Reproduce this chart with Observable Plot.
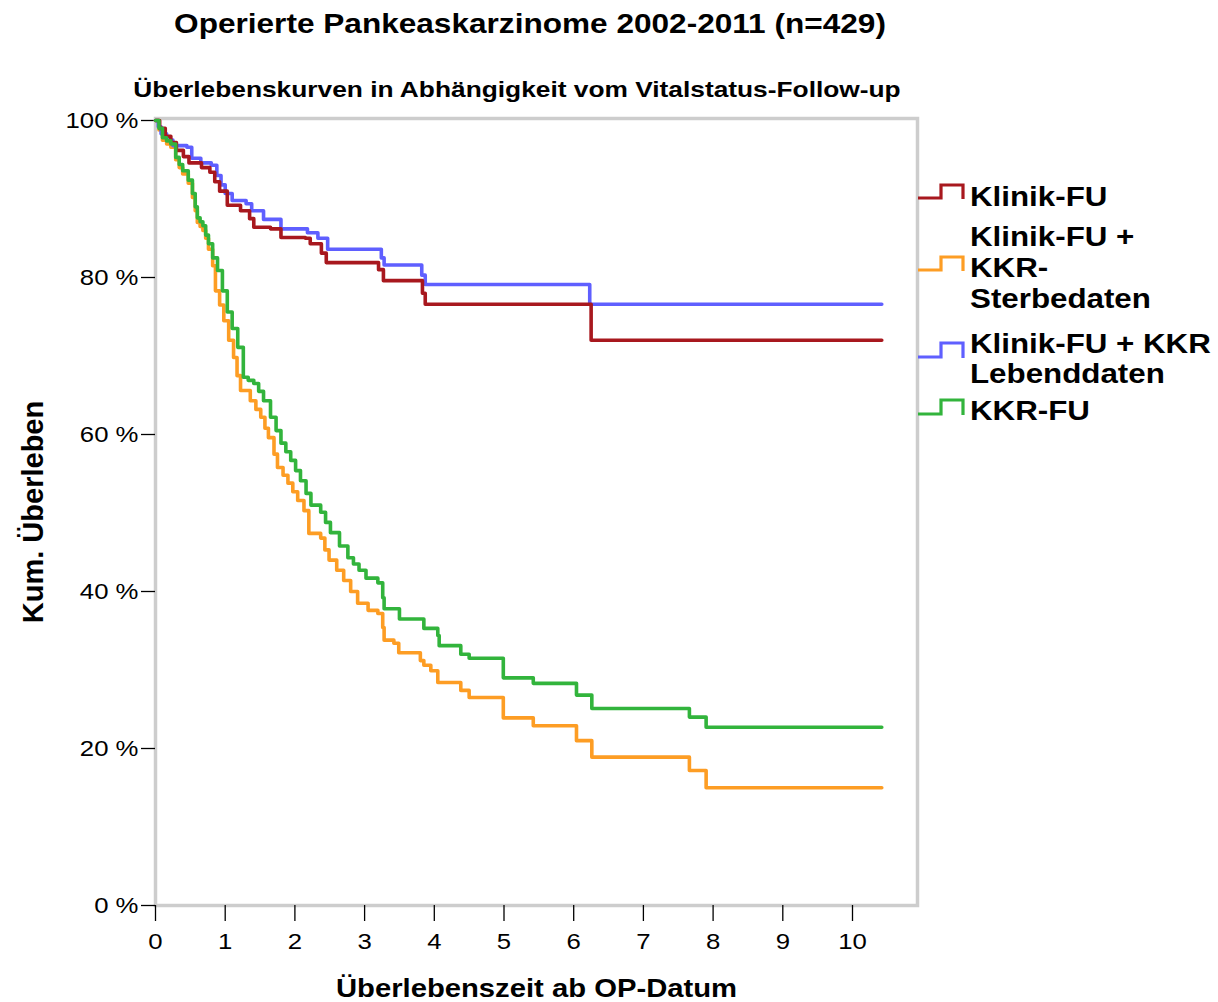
<!DOCTYPE html>
<html>
<head>
<meta charset="utf-8">
<script src="https://cdn.jsdelivr.net/npm/d3@7"></script>
<script src="https://cdn.jsdelivr.net/npm/@observablehq/plot@0.6"></script>
<style>
  html, body { margin: 0; padding: 0; background: #fff; }
  #wrap { position: relative; width: 1218px; height: 1002px; overflow: hidden; font-family: "Liberation Sans", Arial, sans-serif; }
  #chart { position: absolute; left: 0; top: 110px; }
  #overlay { position: absolute; left: 0; top: 0; pointer-events: none; }
</style>
</head>
<body>
<div id="wrap">
  <div id="chart"></div>
  <svg id="overlay" width="1218" height="1002"></svg>
</div>
<script>
// ---- Data ----
const seriesNames = ["Klinik-FU", "Klinik-FU + KKR-Sterbedaten", "Klinik-FU + KKR Lebenddaten", "KKR-FU"];
const seriesColors = ["#a8181e", "#fd9d24", "#5f5fff", "#32b43c"];
const legendLines = [["Klinik-FU"], ["Klinik-FU +", "KKR-", "Sterbedaten"], ["Klinik-FU + KKR", "Lebenddaten"], ["KKR-FU"]];

const klinikT = [0, 0.06, 0.14, 0.22, 0.3, 0.4, 0.48, 0.66, 0.78, 0.85, 0.92, 1.03, 1.22, 1.35, 1.41, 1.65, 1.8, 2.15, 2.22, 2.38, 2.45, 3.2, 3.27, 3.83, 3.87, 6.25, 10.42];
const klinikS = [100, 99, 98, 97.2, 96.2, 95.4, 94.6, 94, 93.4, 92.2, 91, 89.2, 88.5, 87.5, 86.4, 86.2, 85.1, 85, 84.3, 83.1, 81.9, 81, 79.6, 78, 76.6, 72, 72];

const sterbT = [0, 0.05, 0.1, 0.16, 0.22, 0.29, 0.34, 0.39, 0.47, 0.53, 0.57, 0.6, 0.64, 0.68, 0.72, 0.76, 0.82, 0.86, 0.92, 0.98, 1.05, 1.12, 1.17, 1.22, 1.36, 1.44, 1.51, 1.57, 1.62, 1.7, 1.75, 1.83, 1.9, 1.97, 2.04, 2.13, 2.2, 2.37, 2.43, 2.49, 2.6, 2.7, 2.8, 2.9, 3.05, 3.19, 3.26, 3.28, 3.42, 3.49, 3.8, 3.85, 3.95, 4.05, 4.38, 4.5, 4.99, 5.42, 6.04, 6.26, 7.66, 7.9, 10.42];
const sterbS = [100, 98.8, 97.5, 97, 96.6, 95, 94, 93.2, 92, 90.2, 88.5, 87, 86.5, 86, 85, 83.6, 81.5, 78.3, 76.5, 74.5, 72, 69.8, 67.5, 65.6, 64.3, 63.2, 62.2, 60.8, 59.6, 57.5, 55.8, 54.8, 53.8, 52.7, 51.6, 50.3, 47.4, 46.8, 45.3, 44, 42.7, 41.4, 40, 38.5, 37.6, 37.2, 35.4, 33.8, 33.4, 32.2, 31.2, 30.6, 29.9, 28.4, 27.4, 26.5, 23.9, 22.9, 21, 18.9, 17.2, 15, 15];

const lebendT = [0, 0.04, 0.08, 0.16, 0.25, 0.45, 0.52, 0.65, 0.8, 0.88, 0.94, 1.0, 1.1, 1.3, 1.38, 1.55, 1.8, 2.18, 2.33, 2.47, 3.24, 3.28, 3.82, 3.87, 6.23, 10.42];
const lebendS = [100, 99.2, 98.3, 97.5, 96.8, 96.6, 95.2, 94.6, 94.3, 93, 91.8, 90.7, 89.8, 89.4, 88.5, 87.4, 86.2, 85.7, 85, 83.6, 82.5, 81.6, 80.3, 79.1, 76.6, 76.6];

const kkrT = [0, 0.05, 0.1, 0.16, 0.22, 0.29, 0.34, 0.39, 0.47, 0.53, 0.57, 0.6, 0.64, 0.68, 0.72, 0.76, 0.82, 0.89, 0.96, 1.03, 1.1, 1.18, 1.26, 1.33, 1.41, 1.48, 1.55, 1.65, 1.73, 1.8, 1.87, 1.94, 2.01, 2.08, 2.16, 2.23, 2.37, 2.44, 2.51, 2.64, 2.76, 2.84, 2.92, 3.02, 3.19, 3.26, 3.28, 3.5, 3.85, 4.05, 4.07, 4.38, 4.5, 4.99, 5.42, 6.04, 6.26, 7.66, 7.9, 10.42];
const kkrS = [100, 99, 97.8, 97.4, 97, 95.3, 94.4, 93.6, 92.4, 90.7, 89, 87.6, 87.1, 86.6, 85.4, 84.3, 82.5, 80.9, 78.3, 75.6, 73.5, 71.1, 67.3, 66.9, 66.5, 65.5, 64.3, 62.2, 60.5, 58.9, 57.8, 56.7, 55.4, 54.1, 52.5, 51, 50.1, 48.8, 47.5, 45.8, 44.3, 43.5, 42.7, 41.7, 41.1, 39.2, 37.8, 36.5, 35.3, 34.4, 33.1, 32, 31.5, 29, 28.3, 26.8, 25.1, 24, 22.7, 22.7];

const xTicks = [0, 1, 2, 3, 4, 5, 6, 7, 8, 9, 10];
const yTicks = [0, 20, 40, 60, 80, 100];
const titleText = "Operierte Pankeaskarzinome 2002-2011 (n=429)";
const subtitleText = "Überlebenskurven in Abhängigkeit vom Vitalstatus-Follow-up";
const xLabel = "Überlebenszeit ab OP-Datum";
const yLabel = "Kum. Überleben";

// ---- Build table ----
const seriesData = [[klinikT, klinikS], [sterbT, sterbS], [lebendT, lebendS], [kkrT, kkrS]];
const drawOrder = [1, 2, 0, 3];
const rows = drawOrder.flatMap(k => seriesData[k][0].map((t, i) => ({name: seriesNames[k], t, s: seriesData[k][1][i]})));

const FONT = "'Liberation Sans', Arial, sans-serif";
const SX = 1.17;

const plot = Plot.plot({
  width: 1218,
  height: 892,
  marginLeft: 155,
  marginRight: 301,
  marginTop: 8,
  marginBottom: 97,
  style: {fontFamily: FONT, background: "#fff", color: "#000", overflow: "visible"},
  x: {domain: [0, 10], range: [155, 852]},
  y: {domain: [0, 100], range: [795, 10]},
  color: {domain: seriesNames, range: seriesColors},
  marks: [
    Plot.frame({stroke: "#cdcdcd", strokeWidth: 3.5}),
    Plot.axisX({ticks: xTicks, tickSize: 16, tickPadding: 12, fontSize: 22, label: null, strokeWidth: 1.3}),
    Plot.axisY({ticks: yTicks, tickFormat: d => `${d} %`, tickSize: 14, tickPadding: 3, fontSize: 22, label: null, strokeWidth: 1.3}),
    Plot.line(rows, {x: "t", y: "s", z: "name", stroke: "name", curve: "step-after", strokeWidth: 3.6}),
    Plot.text([xLabel], {frameAnchor: "bottom", dy: 83, lineAnchor: "middle", textAnchor: "middle", text: d => d, fontSize: 25, fontWeight: "bold", fill: "#000"}),
    Plot.text([yLabel], {frameAnchor: "left", dx: -122, rotate: -90, lineAnchor: "middle", textAnchor: "middle", text: d => d, fontSize: 29, fontWeight: "bold", fill: "#000"})
  ]
});
document.getElementById("chart").appendChild(plot);

// horizontal stretch of non-rotated texts (the reference lettering is horizontally wide)
plot.querySelectorAll("text").forEach(t => {
  const tr = t.getAttribute("transform") || "";
  if (tr.includes("rotate")) return;
  if (tr) t.setAttribute("transform", tr + ` scale(${SX},1)`);
});

// ---- Overlay: title, subtitle, legend ----
const ov = d3.select("#overlay").style("font-family", FONT);
ov.append("text").attr("transform", `translate(530,33) scale(${SX},1)`).attr("text-anchor", "middle")
  .attr("font-size", 27).attr("font-weight", "bold").text(titleText);
ov.append("text").attr("transform", `translate(517,97) scale(${SX},1)`).attr("text-anchor", "middle")
  .attr("font-size", 22.5).attr("font-weight", "bold").text(subtitleText);

const legendBaselines = [[206], [246, 277, 308], [353, 383], [420]];
const legendIcon = [[198, 185], [270, 257], [357, 343], [414, 400]];
seriesNames.forEach((n, k) => {
  const [lo, hi] = legendIcon[k];
  ov.append("path").attr("d", `M918,${lo}H941V${hi}H963V${lo + 1}`)
    .attr("fill", "none").attr("stroke", seriesColors[k]).attr("stroke-width", 3.2);
  legendLines[k].forEach((line, j) => {
    ov.append("text").attr("transform", `translate(970,${legendBaselines[k][j]}) scale(1.16,1)`)
      .attr("font-size", 27).attr("font-weight", "bold").text(line);
  });
});
</script>
</body>
</html>
